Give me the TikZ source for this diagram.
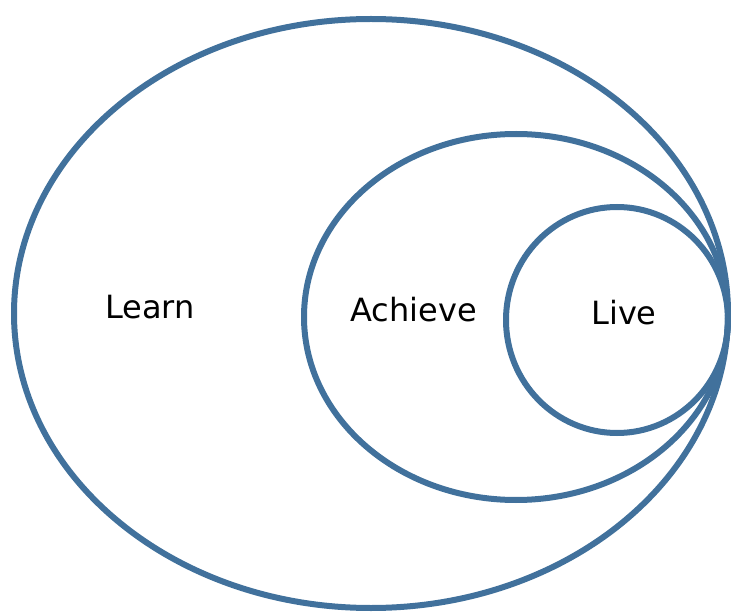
\documentclass[tikz,border=0pt]{standalone}
\usepackage{fontspec}
\setmainfont{DejaVu Sans}
\definecolor{ringblue}{HTML}{41719C}
\begin{document}
\begin{tikzpicture}[x=1pt,y=-1pt,
  ring/.style={draw=ringblue,line width=6pt},
  lbl/.style={font=\fontsize{32}{32}\selectfont,anchor=base,inner sep=0pt}]
\useasboundingbox (0,0) rectangle (731,612);
% nested rings, all touching at the right edge
\draw[ring] (371,313.5) ellipse [x radius=357, y radius=294.5];
\draw[ring] (516,317) ellipse [x radius=212, y radius=183];
\draw[ring] (617,320) ellipse [x radius=111, y radius=113];
\node[lbl] (learn) at (150,319) {Learn};
\node[lbl] (achieve) at (413.5,322) {Achieve};
\node[lbl] (live) at (624,324) {Live};
\end{tikzpicture}
\end{document}
